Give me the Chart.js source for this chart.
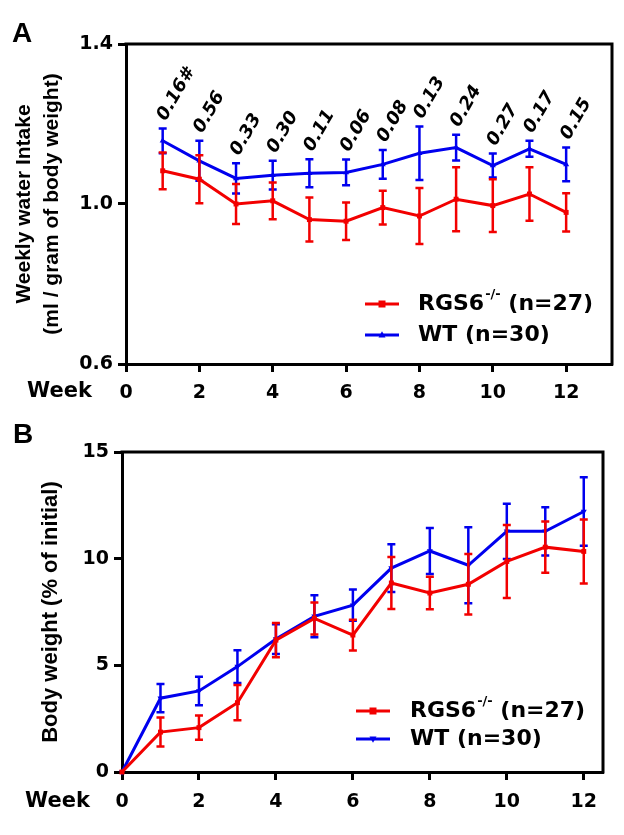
<!DOCTYPE html>
<html>
<head>
<meta charset="utf-8">
<script src="https://cdn.jsdelivr.net/npm/chart.js@4"></script>
<style>
  html, body { margin: 0; padding: 0; background: #fff; }
  .panel { position: absolute; left: 0; width: 624px; }
  #panelA { top: 0; height: 410px; }
  #panelB { top: 410px; height: 425px; }
</style>
</head>
<body>
<div class="panel" id="panelA"><canvas id="waterChart"></canvas></div>
<div class="panel" id="panelB"><canvas id="weightChart"></canvas></div>
<script>
const weekTicks = [0, 2, 4, 6, 8, 10, 12];

// panel A - weekly water intake
const weeksA = [1, 2, 3, 4, 5, 6, 7, 8, 9, 10, 11, 12];
const rgsWater = [1.083, 1.062, 1.000, 1.008, 0.961, 0.957, 0.991, 0.970, 1.012, 0.996, 1.025, 0.979];
const rgsWaterErr = [0.046, 0.060, 0.050, 0.046, 0.055, 0.047, 0.042, 0.070, 0.080, 0.066, 0.067, 0.048];
const wtWater = [1.158, 1.108, 1.064, 1.072, 1.077, 1.079, 1.099, 1.127, 1.141, 1.096, 1.138, 1.099];
const wtWaterErr = [0.031, 0.050, 0.038, 0.036, 0.035, 0.032, 0.036, 0.067, 0.032, 0.030, 0.020, 0.042];
const pValues = ["0.16#", "0.56", "0.33", "0.30", "0.11", "0.06", "0.08", "0.13", "0.24", "0.27", "0.17", "0.15"];
const waterTicks = [0.6, 1.0, 1.4];

// panel B - body weight
const weeksB = [0, 1, 2, 3, 4, 5, 6, 7, 8, 9, 10, 11, 12];
const rgsWeight = [0, 1.87, 2.08, 3.25, 6.18, 7.20, 6.42, 8.86, 8.39, 8.80, 9.87, 10.54, 10.34];
const rgsWeightErr = [0, 0.68, 0.57, 0.83, 0.80, 0.75, 0.72, 1.22, 0.76, 1.42, 1.71, 1.20, 1.50];
const wtWeight = [0, 3.46, 3.80, 4.94, 6.23, 7.30, 7.82, 9.56, 10.36, 9.69, 11.28, 11.28, 12.21];
const wtWeightErr = [0, 0.66, 0.67, 0.77, 0.70, 0.98, 0.73, 1.12, 1.08, 1.78, 1.30, 1.13, 1.61];
const weightTicks = [0, 5, 10, 15];

const groupNames = ["RGS6", "WT"];
const groupSup = ["-/-", ""];
const groupN = [27, 30];

const RED = "#f20000";
const BLUE = "#0000ee";
const tickFont = { family: "'DejaVu Sans', sans-serif", size: 19, weight: "bold" };
const titleFamily = "'Liberation Sans', Arial, sans-serif";

const toPoints = (xs, ys) => xs.map((x, i) => ({ x, y: ys[i] }));

const errorBars = {
  id: "errorBars",
  afterDatasetDraw(chart, args) {
    const ds = chart.data.datasets[args.index];
    if (!ds.errors) return;
    const { ctx } = chart;
    const x = chart.scales.x;
    const y = chart.scales.y;
    ctx.save();
    ctx.strokeStyle = ds.borderColor;
    ctx.lineWidth = 2.5;
    ds.data.forEach((p, i) => {
      const e = ds.errors[i];
      if (!e) return;
      const px = x.getPixelForValue(p.x);
      const top = y.getPixelForValue(p.y + e);
      const bot = y.getPixelForValue(p.y - e);
      ctx.beginPath();
      ctx.moveTo(px, top); ctx.lineTo(px, bot);
      ctx.moveTo(px - 4, top); ctx.lineTo(px + 4, top);
      ctx.moveTo(px - 4, bot); ctx.lineTo(px + 4, bot);
      ctx.stroke();
    });
    ctx.restore();
  }
};

function drawMarker(ctx, style, cx, cy, r, flip) {
  ctx.beginPath();
  if (style === "rect") {
    ctx.rect(cx - r, cy - r, r * 2, r * 2);
  } else {
    const d = flip ? -1 : 1;
    ctx.moveTo(cx, cy - d * r * 1.1);
    ctx.lineTo(cx + r, cy + d * r * 0.7);
    ctx.lineTo(cx - r, cy + d * r * 0.7);
    ctx.closePath();
  }
  ctx.fill();
}

const decorations = {
  id: "decorations",
  afterDraw(chart, args, opts) {
    const { ctx, chartArea: a } = chart;
    ctx.save();
    // top + right side of the box
    ctx.strokeStyle = "#000";
    ctx.lineWidth = 3;
    ctx.beginPath();
    ctx.moveTo(a.left - 1.5, a.top);
    ctx.lineTo(a.right, a.top);
    ctx.lineTo(a.right, a.bottom + 1.5);
    ctx.stroke();

    ctx.fillStyle = "#000";
    ctx.textAlign = "left";
    ctx.textBaseline = "alphabetic";
    ctx.font = `bold 28px ${titleFamily}`;
    ctx.fillText(opts.letter, opts.letterX, opts.letterY);

    ctx.textBaseline = "middle";
    ctx.font = "bold 21px 'DejaVu Sans', sans-serif";
    ctx.fillText("Week", opts.weekX, opts.weekY);

    // legend
    chart.data.datasets.forEach((ds, i) => {
      const ly = opts.legendY + i * opts.legendGap;
      const lx = opts.legendX;
      ctx.strokeStyle = ds.borderColor;
      ctx.fillStyle = ds.borderColor;
      ctx.lineWidth = 3;
      ctx.beginPath();
      ctx.moveTo(lx, ly);
      ctx.lineTo(lx + 34, ly);
      ctx.stroke();
      drawMarker(ctx, ds.pointStyle, lx + 17, ly, 3.5, ds.pointRotation === 180);

      ctx.fillStyle = "#000";
      let tx = opts.textX;
      ctx.font = "bold 22px 'DejaVu Sans', sans-serif";
      ctx.fillText(groupNames[i], tx, ly);
      tx += ctx.measureText(groupNames[i]).width;
      if (groupSup[i]) {
        ctx.font = "bold 13px 'DejaVu Sans', sans-serif";
        ctx.fillText(groupSup[i], tx + 1, ly - 9);
        tx += ctx.measureText(groupSup[i]).width + 1;
        ctx.font = "bold 22px 'DejaVu Sans', sans-serif";
      }
      ctx.fillText(` (n=${groupN[i]})`, tx, ly);
    });
    ctx.restore();
  }
};

const pValueLabels = {
  id: "pValueLabels",
  afterDatasetsDraw(chart, args, opts) {
    if (!opts.labels) return;
    const ds = chart.data.datasets[opts.datasetIndex];
    const { ctx } = chart;
    const x = chart.scales.x;
    const y = chart.scales.y;
    ctx.save();
    ctx.fillStyle = "#000";
    ctx.font = "italic bold 18px 'DejaVu Sans', sans-serif";
    ctx.textAlign = "left";
    ctx.textBaseline = "alphabetic";
    ds.data.forEach((p, i) => {
      const px = x.getPixelForValue(p.x) + 3;
      const py = y.getPixelForValue(p.y + ds.errors[i]) - 7;
      ctx.save();
      ctx.translate(px, py);
      ctx.rotate(-Math.PI / 3);
      ctx.fillText(opts.labels[i], 0, 0);
      ctx.restore();
    });
    ctx.restore();
  }
};

function makeDatasets(xs, red, redErr, blue, blueErr, flipTri) {
  return [
    {
      label: groupNames[0], data: toPoints(xs, red), errors: redErr,
      borderColor: RED, backgroundColor: RED, pointStyle: "rect",
      pointRadius: 3.5, pointBorderWidth: 0, borderWidth: 3, tension: 0, clip: false
    },
    {
      label: groupNames[1], data: toPoints(xs, blue), errors: blueErr,
      borderColor: BLUE, backgroundColor: BLUE, pointStyle: "triangle",
      pointRotation: flipTri ? 180 : 0,
      pointRadius: 3.5, pointBorderWidth: 0, borderWidth: 3, tension: 0, clip: false
    }
  ];
}

function axisCommon() {
  return {
    type: "linear",
    ticks: { font: tickFont, color: "#000" },
    grid: { drawOnChartArea: false, tickLength: 8, tickWidth: 3, tickColor: "#000" },
    border: { display: true, width: 3, color: "#000" }
  };
}

function buildChart(canvasId, cfg) {
  const x = axisCommon();
  x.min = 0;
  x.max = cfg.xMax;
  x.ticks.padding = cfg.xPad;
  x.afterBuildTicks = (s) => { s.ticks = weekTicks.map((v) => ({ value: v })); };
  x.afterFit = (s) => { s.height = cfg.xHeight; s.paddingLeft = 0; s.paddingRight = 0; };

  const y = axisCommon();
  y.min = cfg.yTicks[0];
  y.max = cfg.yTicks[cfg.yTicks.length - 1];
  y.ticks.padding = 5;
  y.ticks.callback = cfg.yFormat;
  y.afterBuildTicks = (s) => { s.ticks = cfg.yTicks.map((v) => ({ value: v })); };
  y.afterFit = (s) => { s.width = cfg.yWidth; s.paddingTop = 0; s.paddingBottom = 0; };
  y.title = {
    display: true, text: cfg.yTitle, color: "#000",
    font: { family: titleFamily, size: cfg.titleSize, weight: "bold", lineHeight: cfg.titleLine },
    padding: { top: cfg.titlePad, bottom: 0 }
  };

  return new Chart(document.getElementById(canvasId), {
    type: "line",
    data: { datasets: cfg.datasets },
    plugins: [errorBars, pValueLabels, decorations],
    options: {
      responsive: true,
      maintainAspectRatio: false,
      animation: false,
      layout: { padding: { top: cfg.top, right: cfg.right, left: 0, bottom: 0 } },
      plugins: {
        legend: { display: false },
        tooltip: { enabled: false },
        pValueLabels: cfg.pLabels ? { labels: cfg.pLabels, datasetIndex: 1 } : {},
        decorations: cfg.deco
      },
      scales: { x, y }
    }
  });
}

buildChart("waterChart", {
  datasets: makeDatasets(weeksA, rgsWater, rgsWaterErr, wtWater, wtWaterErr, false),
  xMax: 13.25, xPad: 10, xHeight: 46,
  yTicks: waterTicks, yFormat: (v) => v.toFixed(1), yWidth: 126,
  yTitle: ["Weekly water Intake", "(ml / gram of body weight)"],
  titleSize: 21, titleLine: 1.3, titlePad: 11,
  top: 44, right: 12,
  pLabels: pValues,
  deco: { letter: "A", letterX: 12, letterY: 42, weekX: 27, weekY: 392,
          legendX: 365, legendY: 304, legendGap: 31, textX: 418 }
});

buildChart("weightChart", {
  datasets: makeDatasets(weeksB, rgsWeight, rgsWeightErr, wtWeight, wtWeightErr, true),
  xMax: 12.5, xPad: 11, xHeight: 63,
  yTicks: weightTicks, yFormat: (v) => String(v), yWidth: 122,
  yTitle: "Body weight (% of initial)",
  titleSize: 22, titleLine: 1.2, titlePad: 38,
  top: 42, right: 21,
  pLabels: null,
  deco: { letter: "B", letterX: 13, letterY: 33, weekX: 25, weekY: 392,
          legendX: 356, legendY: 301, legendGap: 28, textX: 410 }
});
</script>
</body>
</html>
